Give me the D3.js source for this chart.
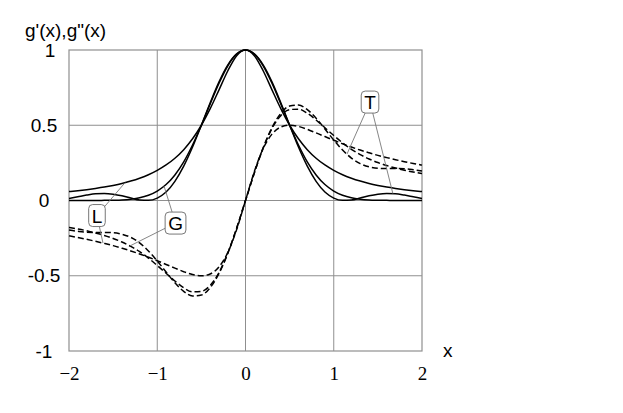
<!DOCTYPE html>
<html><head><meta charset="utf-8">
<script src="https://cdn.jsdelivr.net/npm/d3@7"></script>
<style>body{margin:0;background:#fff;} svg{display:block}</style>
</head><body>
<svg id="c" width="623" height="413"></svg>
<script>
const xs = [-2.0,-1.9,-1.8,-1.7,-1.6,-1.5,-1.4,-1.3,-1.2,-1.1,-1.0,-0.9,-0.8,-0.7,-0.6,-0.5,-0.4,-0.3,-0.2,-0.1,0,
  0.1,0.2,0.3,0.4,0.5,0.6,0.7,0.8,0.9,1.0,1.1,1.2,1.3,1.4,1.5,1.6,1.7,1.8,1.9,2.0];
// solid curves g'(x)
const seriesL = [0.059,0.065,0.072,0.080,0.089,0.100,0.113,0.129,0.148,0.171,0.200,0.236,0.281,0.338,0.410,0.500,0.610,0.735,0.862,0.962,1,
  0.962,0.862,0.735,0.610,0.500,0.410,0.338,0.281,0.236,0.200,0.171,0.148,0.129,0.113,0.100,0.089,0.080,0.072,0.065,0.059];
const seriesG = [0,0,0,0,0.001,0.002,0.004,0.009,0.018,0.035,0.063,0.106,0.170,0.257,0.369,0.500,0.642,0.779,0.895,0.973,1,
  0.973,0.895,0.779,0.642,0.500,0.369,0.257,0.170,0.106,0.063,0.035,0.018,0.009,0.004,0.002,0.001,0,0,0,0];
const seriesT = [0.014,0.025,0.036,0.045,0.047,0.042,0.031,0.016,0.003,0.001,0.016,0.056,0.127,0.228,0.355,0.500,0.649,0.788,0.901,0.974,1,
  0.974,0.901,0.788,0.649,0.500,0.355,0.228,0.127,0.056,0.016,0.001,0.003,0.016,0.031,0.042,0.047,0.045,0.036,0.025,0.014];
// dashed curves g''(x)
const seriesDL = [-0.235,-0.246,-0.258,-0.271,-0.285,-0.300,-0.317,-0.335,-0.355,-0.377,-0.400,-0.425,-0.449,-0.473,-0.492,-0.500,-0.488,-0.441,-0.345,-0.192,0,
  0.192,0.345,0.441,0.488,0.500,0.492,0.473,0.449,0.425,0.400,0.377,0.355,0.335,0.317,0.300,0.285,0.271,0.258,0.246,0.235];
const seriesDG = [-0.179,-0.189,-0.201,-0.216,-0.232,-0.252,-0.276,-0.305,-0.340,-0.383,-0.432,-0.483,-0.535,-0.580,-0.607,-0.604,-0.564,-0.479,-0.349,-0.184,0,
  0.184,0.349,0.479,0.564,0.604,0.607,0.580,0.535,0.483,0.432,0.383,0.340,0.305,0.276,0.252,0.232,0.216,0.201,0.189,0.179];
const seriesDT = [-0.196,-0.205,-0.211,-0.212,-0.212,-0.214,-0.224,-0.245,-0.282,-0.335,-0.402,-0.475,-0.547,-0.604,-0.634,-0.628,-0.579,-0.484,-0.349,-0.183,0,
  0.183,0.349,0.484,0.579,0.628,0.634,0.604,0.547,0.475,0.402,0.335,0.282,0.245,0.224,0.214,0.212,0.212,0.211,0.205,0.196];

const xTicks = [-2,-1,0,1,2];
const yTicks = [-1,-0.5,0,0.5,1];
const gridX = [-1,0,1];
const gridY = [-0.5,0,0.5];
const yTitle = "g'(x),g\"(x)";
const xTitle = "x";
// labels: position in data space, and leader targets [series, x]
const annotations = [
  {text:"L", at:[-1.683,-0.10], targets:[["L",-1.365],["DL",-1.615]]},
  {text:"G", at:[-0.793,-0.15], targets:[["G",-0.923],["DG",-1.31]]},
  {text:"T", at:[1.411,0.654], targets:[["DT",1.15],["T",1.67]]}
];

const data = {L:seriesL, G:seriesG, T:seriesT, DL:seriesDL, DG:seriesDG, DT:seriesDT};
const svg = d3.select("#c");
const x = d3.scaleLinear([-2,2],[69,422]);
const y = d3.scaleLinear([-1,1],[351,50]);
const gridColor = "#8f8f8f";

// grid
svg.append("g").selectAll("line").data(gridX).join("line")
  .attr("x1",d=>x(d)).attr("x2",d=>x(d)).attr("y1",y(1)).attr("y2",y(-1))
  .attr("stroke",gridColor).attr("stroke-width",1);
svg.append("g").selectAll("line").data(gridY).join("line")
  .attr("y1",d=>y(d)).attr("y2",d=>y(d)).attr("x1",x(-2)).attr("x2",x(2))
  .attr("stroke",gridColor).attr("stroke-width",1);
svg.append("rect").attr("x",x(-2)).attr("y",y(1)).attr("width",x(2)-x(-2)).attr("height",y(-1)-y(1))
  .attr("fill","none").attr("stroke",gridColor).attr("stroke-width",1.2);

// axes labels
const ax = svg.append("g").attr("transform",`translate(0,${y(-1)})`)
  .call(d3.axisBottom(x).tickValues(xTicks).tickSize(0).tickPadding(16).tickFormat(d3.format("d")));
ax.select(".domain").remove();
ax.selectAll("text").attr("font-family","'Liberation Serif','Times New Roman',serif").attr("font-size",19).attr("fill","#000");

const ay = svg.append("g").attr("transform",`translate(${x(-2)},0)`)
  .call(d3.axisLeft(y).tickValues(yTicks).tickSize(0).tickFormat(d=>String(d)));
ay.select(".domain").remove();
ay.selectAll("text").attr("font-family","'Liberation Sans',Arial,sans-serif").attr("font-size",19)
  .attr("fill","#000").attr("text-anchor","middle").attr("x",d=> d===1 ? -19 : -25);

svg.append("text").attr("x",25).attr("y",37).text(yTitle)
  .attr("font-family","'Liberation Sans',Arial,sans-serif").attr("font-size",19);
svg.append("text").attr("x",443).attr("y",357).text(xTitle)
  .attr("font-family","'Liberation Sans',Arial,sans-serif").attr("font-size",19);

// curves
const line = d3.line().x((d,i)=>x(xs[i])).y(d=>y(d)).curve(d3.curveMonotoneX);
["L","G","T"].forEach(k=>{
  svg.append("path").attr("d",line(data[k])).attr("fill","none").attr("stroke","#000").attr("stroke-width",1.5);
});
["DL","DG","DT"].forEach(k=>{
  svg.append("path").attr("d",line(data[k])).attr("fill","none").attr("stroke","#000").attr("stroke-width",1.5)
    .attr("stroke-dasharray","6,3");
});

// annotations
function valAt(k, xv){
  const arr = data[k];
  const i = d3.bisectLeft(xs, xv);
  const i0 = Math.max(0,i-1), i1 = Math.min(xs.length-1,i);
  if (i0===i1) return arr[i0];
  const t = (xv-xs[i0])/(xs[i1]-xs[i0]);
  return arr[i0]+(arr[i1]-arr[i0])*t;
}
annotations.forEach(a=>{
  const cx = x(a.at[0]), cy = y(a.at[1]);
  a.targets.forEach(([k,xv])=>{
    svg.append("line").attr("x1",cx).attr("y1",cy).attr("x2",x(xv)).attr("y2",y(valAt(k,xv)))
      .attr("stroke","#777").attr("stroke-width",0.9);
  });
  const g = svg.append("g");
  const txt = g.append("text").attr("x",cx).attr("y",cy+7).attr("text-anchor","middle")
    .attr("font-family","'Liberation Sans',Arial,sans-serif").attr("font-size",19).text(a.text);
  const w = txt.node().getComputedTextLength()+6;
  g.insert("rect","text").attr("x",cx-w/2).attr("y",cy-11).attr("width",w).attr("height",22)
    .attr("rx",4).attr("fill","#fff").attr("stroke","#777").attr("stroke-width",1);
});
</script>
</body></html>
